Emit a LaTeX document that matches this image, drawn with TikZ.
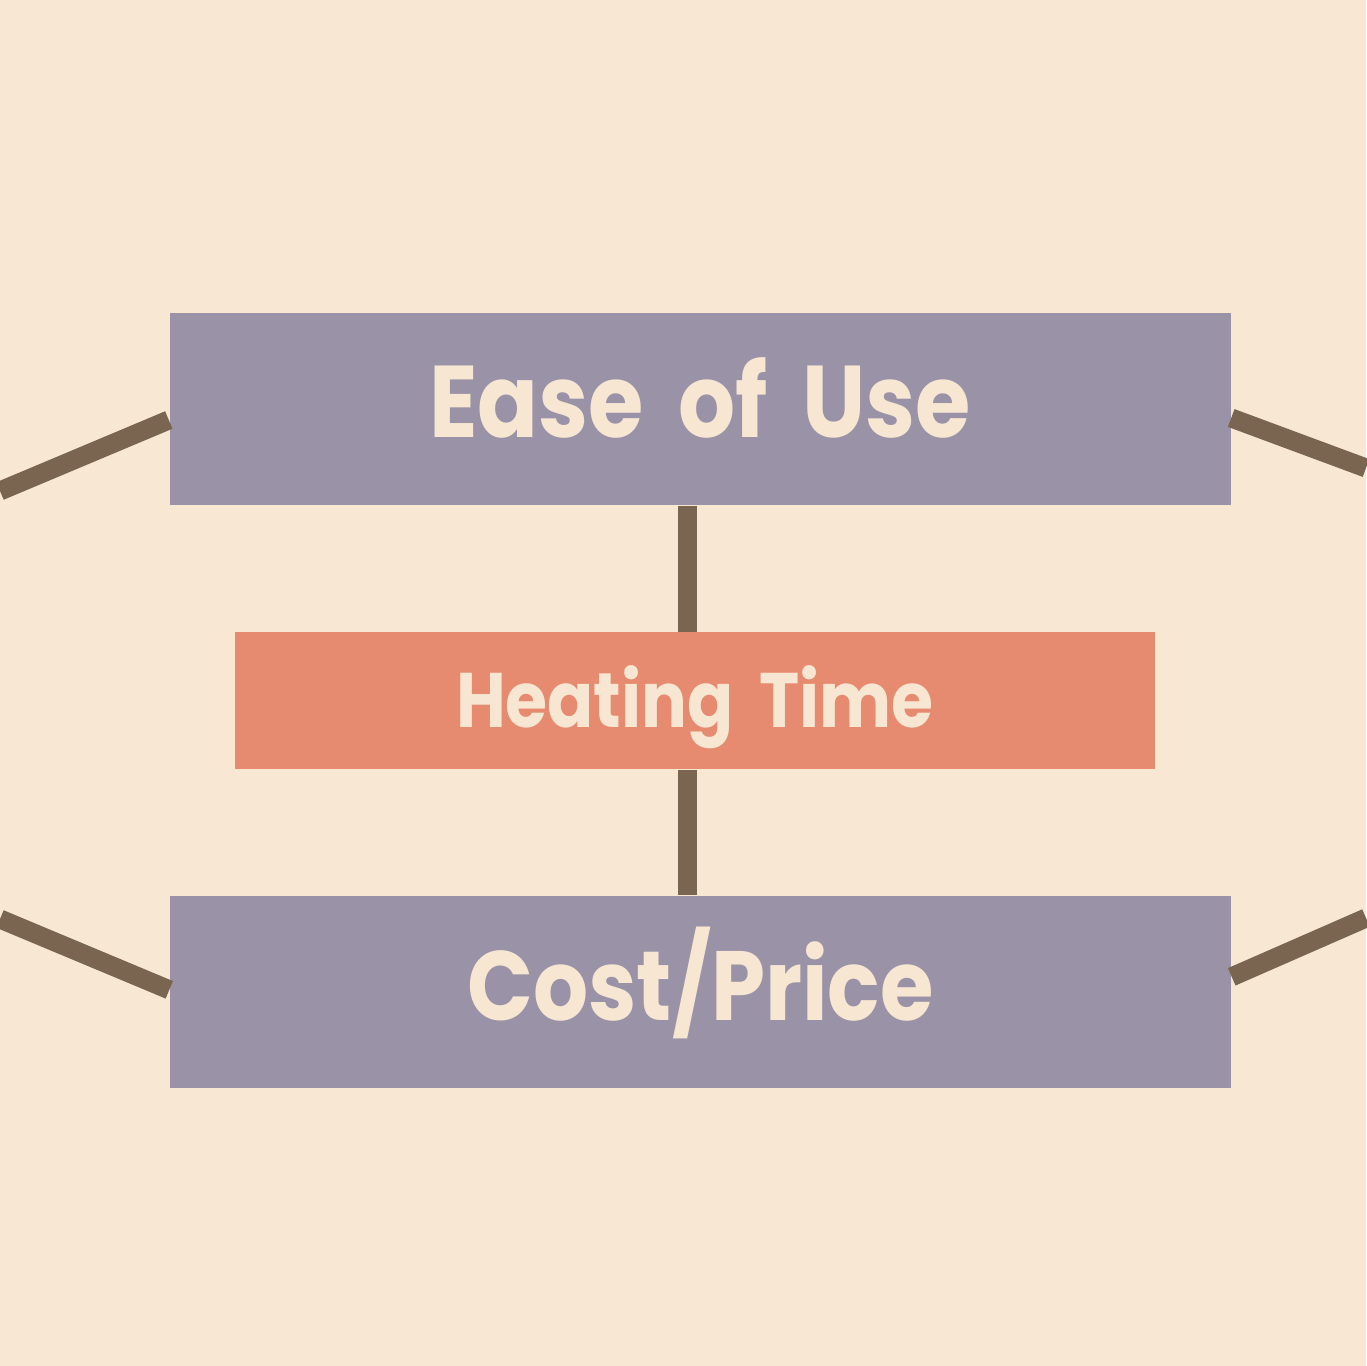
\documentclass[tikz,border=0pt]{standalone}
\usepackage{fontspec}
\setmainfont{Poppins}
\newfontfamily\tagfont{Poppins}[FakeStretch=0.88,WordSpace=1.8]
\usetikzlibrary{positioning}
\definecolor{paper}{HTML}{F7E7D3}
\definecolor{slate}{HTML}{9A93A7}
\definecolor{salmon}{HTML}{E68B70}
\definecolor{bark}{HTML}{7A6650}
\definecolor{cream}{HTML}{F6E6D2}

\begin{document}
\begin{tikzpicture}[
			factor/.style={fill=slate,rectangle,minimum width=10.61cm,minimum height=1.92cm,
				text height=0.72cm,text depth=0.14cm,
				text=cream,font=\tagfont\bfseries\fontsize{29}{30}\selectfont,inner sep=0pt},
			core/.style={fill=salmon,rectangle,minimum width=9.2cm,minimum height=1.37cm,
				text height=0.57cm,text depth=0.03cm,
				text=cream,font=\tagfont\bfseries\fontsize{22}{24}\selectfont,inner sep=0pt},
			link/.style={draw=bark,line width=5.4pt}]
			\fill [paper] (0,0) rectangle (13.66,-13.66);
			\useasboundingbox (0,0) rectangle (13.66,-13.66);
			\node (ease) [factor] at (7.0,-4.09) {Ease of Use};
			\node (heat) [core,below=1.26cm of ease,xshift=-0.05cm] {Heating Time};
			\node (cost) [factor,below=1.25cm of heat,xshift=0.055cm,font=\tagfont\bfseries\fontsize{28}{30}\selectfont] {Cost/Price};
			% loose ends at the page edges
			\coordinate (lup) at (0,-4.91);
			\coordinate (rup) at (13.66,-4.68);
			\coordinate (llow) at (0,-9.19);
			\coordinate (rlow) at (13.66,-9.18);
			\draw [link] (lup) -- ([yshift=-0.11cm]ease.west);
			\draw [link] ([yshift=-0.09cm]ease.east) -- (rup);
			\draw [link] (llow) -- ([yshift=0.02cm]cost.west);
			\draw [link] ([yshift=0.15cm]cost.east) -- (rlow);
			\draw [link] ([xshift=-0.13cm]ease.south) -- ([xshift=-0.13cm]ease.south |- heat.north);
			\draw [link] ([xshift=-0.08cm]heat.south) -- ([xshift=-0.08cm]heat.south |- cost.north);
		\end{tikzpicture}
\end{document}
